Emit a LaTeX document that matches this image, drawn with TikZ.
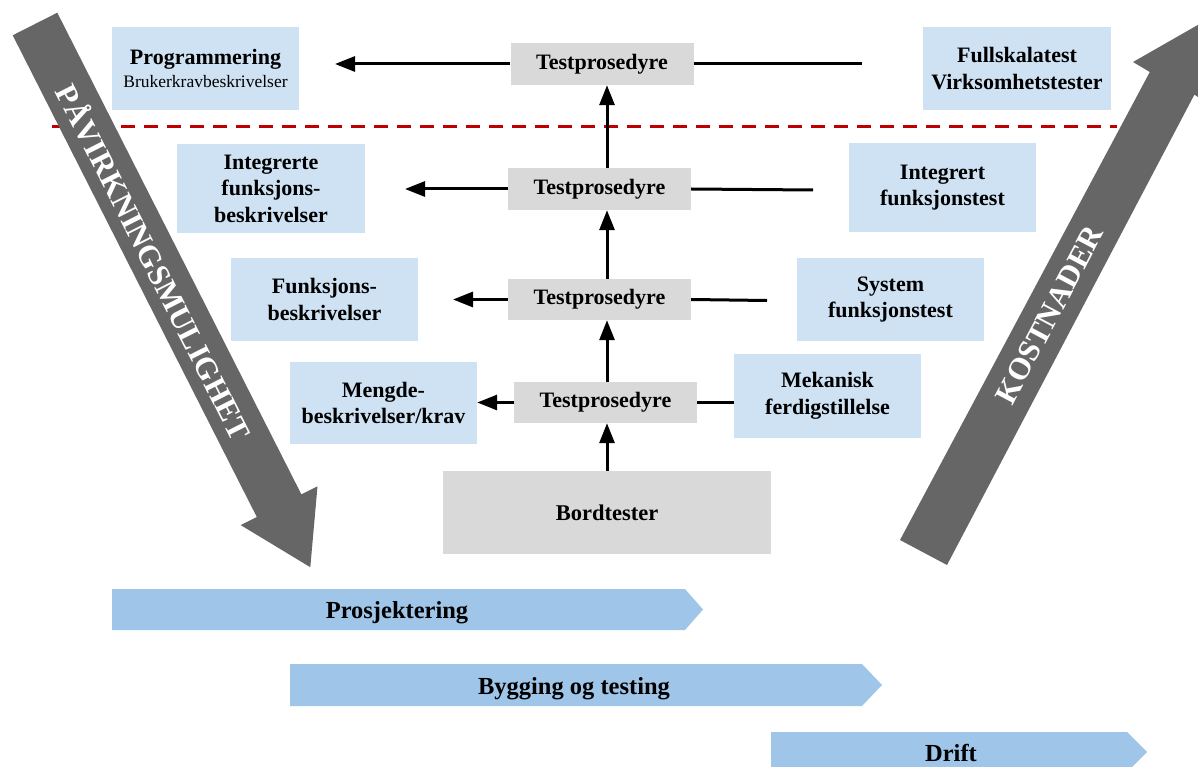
\documentclass[tikz,border=0pt]{standalone}
\usepackage{fontspec}
\setmainfont{Liberation Serif}
\usetikzlibrary{arrows.meta}
\definecolor{lblue}{RGB}{207,226,243}
\definecolor{pblue}{RGB}{159,197,232}
\definecolor{tgray}{RGB}{217,217,217}
\definecolor{dgray}{RGB}{102,102,102}
\definecolor{dred}{RGB}{192,0,0}
\begin{document}
\begin{tikzpicture}[x=1pt,y=-1pt,
  lbox/.style={fill=lblue, inner sep=0pt, minimum width=187pt, align=center, font=\fontsize{22}{26.5}\selectfont\bfseries},
  tbox/.style={fill=tgray, inner sep=0pt, minimum width=183pt, minimum height=41pt, font=\fontsize{22}{26}\selectfont\bfseries},
  conn/.style={line width=3pt},
  arr/.style={conn, -{Triangle[length=20pt,width=15pt]}},
  bigarrow/.style={fill=dgray},
  bigtext/.style={text=white, font=\fontsize{31}{31}\selectfont\bfseries, inner sep=0pt},
  phase/.style={fill=pblue},
  phasetext/.style={font=\fontsize{24.5}{28}\selectfont\bfseries, inner sep=0pt, anchor=base},
  redline/.style={draw=dred, line width=3pt, dash pattern=on 14pt off 9pt},
]
\useasboundingbox (0,0) rectangle (1198,767);
\clip (0,0) rectangle (1198,767);

% dashed separator
\coordinate (d1) at (52,127);
\coordinate (d2) at (1117,127);
\draw[redline] (d1) -- (d2);

% light blue boxes
\node[lbox, minimum height=83pt] (prog) at (205.5,68.5) {Programmering\\[-3pt]{\fontsize{17.5}{20}\selectfont\mdseries Brukerkravbeskrivelser}};
\node[lbox, minimum height=83pt, minimum width=188pt] (full) at (1017,68.5) {Fullskalatest\\Virksomhetstester};
\node[lbox, minimum height=89pt, minimum width=188pt] (integ) at (271,188.5) {Integrerte\\funksjons-\\beskrivelser};
\node[lbox, minimum height=89pt] (integt) at (942.5,187.5) {Integrert\\funksjonstest};
\node[lbox, minimum height=83pt] (funk) at (324.5,299.5) {Funksjons-\\beskrivelser};
\node[lbox, minimum height=83pt] (sys) at (890.5,299.5) {System\\funksjonstest};
\node[lbox, minimum height=82pt] (meng) at (383.5,403) {Mengde-\\beskrivelser/krav};
\node[lbox, minimum height=84pt] (mek) at (827.5,396) {Mekanisk\\ferdigstillelse};

% gray test boxes
\node[tbox, minimum height=42pt] (t1) at (602,64) {Testprosedyre};
\node[tbox, minimum height=42pt] (t2) at (599.5,189) {Testprosedyre};
\node[tbox] (t3) at (599.5,299.5) {Testprosedyre};
\node[tbox] (t4) at (605.5,402.5) {Testprosedyre};
\node[fill=tgray, inner sep=0pt, minimum width=328pt, minimum height=83pt, font=\fontsize{22.5}{26}\selectfont\bfseries] (bord) at (607,512.5) {Bordtester};

% free ends of connectors
\coordinate (l1) at (335,64);
\coordinate (r1) at (862,64);
\coordinate (l2) at (405,189);
\coordinate (r2) at (813,190);
\coordinate (l3) at (453,299.5);
\coordinate (r3) at (767,300.5);

% horizontal connectors
\draw[arr] (t1.west) -- (l1);
\draw[conn] (t1.east) -- (r1);
\draw[arr] (t2.west) -- (l2);
\draw[conn] (t2.east) -- (r2);
\draw[arr] (t3.west) -- (l3);
\draw[conn] (t3.east) -- (r3);
\draw[arr] (t4.west) -- (t4.west -| meng.east);
\draw[conn] (t4.east) -- (t4.east -| mek.west);

% vertical connectors
\draw[arr] (bord.north) -- (t4.south -| bord.north);
\draw[arr] (t4.north -| bord.north) -- (t3.south -| bord.north);
\draw[arr] (t3.north -| bord.north) -- (t2.south -| bord.north);
\draw[arr] (t2.north -| bord.north) -- (t1.south -| bord.north);

% big gray arrows
\fill[bigarrow] (12.7,35.3) -- (256.8,517) -- (240.7,525.1) -- (310.3,567.2) -- (317.5,486.3) -- (301.4,494.4) -- (57.3,12.7) -- cycle;
\node[bigtext, rotate=-63.1] (pav) at (155.2,261.3) {PÅVIRKNINGSMULIGHET};
\fill[bigarrow] (900,540) -- (1149.8,72) -- (1133,62) -- (1203,22) -- (1208,104) -- (1194.4,94.6) -- (947,565) -- cycle;
\node[bigtext, rotate=62.1] (kost) at (1049.4,314.7) {KOSTNADER};

% phase arrows
\fill[phase] (112,589) -- (685,589) -- (703,609.5) -- (685,630) -- (112,630) -- cycle;
\node[phasetext] (prosj) at (397,618) {Prosjektering};
\fill[phase] (290,664) -- (862,664) -- (882,685) -- (862,706) -- (290,706) -- cycle;
\node[phasetext] (bygg) at (574,694) {Bygging og testing};
\fill[phase] (771,732) -- (1127,732) -- (1147,752) -- (1127,772) -- (771,772) -- cycle;
\node[phasetext] (drift) at (951,761) {Drift};
\end{tikzpicture}
\end{document}
